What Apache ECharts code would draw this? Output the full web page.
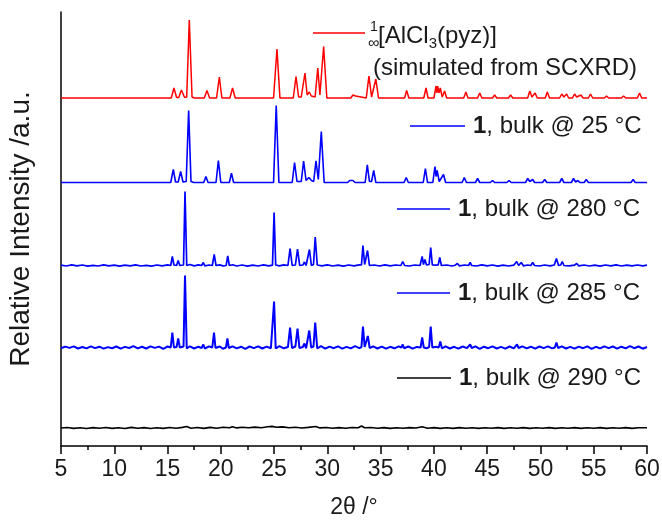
<!DOCTYPE html>
<html>
<head>
<meta charset="utf-8">
<script src="https://cdn.jsdelivr.net/npm/echarts@6/dist/echarts.min.js"></script>
<style>
  html, body { margin: 0; padding: 0; background: #fff; }
  #chart { width: 662px; height: 522px; }
</style>
</head>
<body>
<div id="chart"></div>
<script>
// 2theta / intensity pairs (intensity above each trace's own baseline)
var simPattern = [
  [5,0],[15.35,0],[15.6,10],[15.85,0.5],[16.05,0.5],[16.3,8],[16.6,0.5],[16.8,1],[17.04,78],[17.3,1],[17.5,0],
  [18.45,0],[18.7,7.5],[18.95,0],[19.6,0],[19.86,21],[20.1,0],[20.85,0],[21.1,10],[21.35,0],
  [24.95,0],[25.27,49],[25.55,0],[26.8,0],[27.06,21.5],[27.3,1],[27.55,1],[27.9,25],[28.1,3],[28.3,6],[28.5,2],[28.85,1],[29.1,30],[29.3,3],[29.4,3],[29.65,51.5],[29.95,0],
  [32.2,0],[32.4,3],[32.55,1],[32.66,2],[32.8,0],[33.65,0],[33.9,22],[34.15,1],[34.3,1],[34.55,19],[34.8,0],
  [37.25,0],[37.44,7.5],[37.65,0],[39.05,0],[39.26,10],[39.45,0],[40.0,0],[40.2,12],[40.28,5],[40.36,12],[40.47,5],[40.6,10],[40.78,1],[41.0,7],[41.2,0],
  [42.8,0],[43.0,6],[43.2,0],[44.1,0],[44.3,5],[44.5,0],[45.5,0],[45.7,3],[45.9,0],[47.0,0],[47.2,3],[47.4,0],[48.8,0],[49.0,7],[49.2,1],[49.5,5],[49.7,0],[50.45,0],[50.64,6],[50.85,0],
  [51.8,0],[52.0,4],[52.2,1],[52.46,4],[52.65,0],[53.0,0],[53.2,4],[53.4,1],[53.8,3],[54.0,0],[54.5,0],[54.7,4],[54.9,0],[56.0,0],[56.2,2],[56.4,0],[57.6,0],[57.8,2],[58.0,0],[59.1,0],[59.3,5],[59.5,0],[60,0]
];

var bulk25 = [
  [5,0],[15.3,0],[15.54,13],[15.75,0.5],[16.0,0.5],[16.23,11],[16.45,0.5],[16.75,1],[16.98,72],[17.2,1],[17.45,0],
  [18.4,0],[18.6,6],[18.8,0],[19.55,0],[19.77,22],[20.0,0],[20.8,0],[21.0,9.3],[21.2,0],
  [24.95,0],[25.2,77],[25.45,0],[26.7,0],[26.92,20],[27.15,1],[27.55,1],[27.77,21.5],[28.0,2],[28.27,5],[28.5,2],[28.72,1],[28.93,21.7],[29.15,3],[29.22,3],[29.43,51],[29.7,0],
  [31.9,0],[32.1,2],[32.25,0.5],[32.4,2],[32.6,0],[33.55,0],[33.75,17.7],[33.95,1],[34.15,1],[34.35,12],[34.55,0],
  [37.2,0],[37.4,5],[37.6,0],[39.0,0],[39.2,14],[39.4,0],[39.9,0],[40.1,16],[40.2,6],[40.3,12],[40.5,1],[40.9,8],[41.1,0],
  [42.65,0],[42.85,5],[43.05,0],[43.9,0],[44.1,4],[44.3,0],[45.3,0],[45.5,2],[45.7,0],[46.85,0],[47.05,2],[47.25,0],[48.6,0],[48.8,4],[49.0,1],[49.27,3],[49.45,0],[50.2,0],[50.4,3],[50.6,0],
  [51.8,0],[52.0,4],[52.2,0],[52.9,0],[53.1,4],[53.3,0.5],[53.5,2],[53.7,0],[54.1,0],[54.3,3],[54.5,0],[58.5,0],[58.7,3],[58.9,0],[60,0]
];

var bulk280 = [
  [5,0.3],[5.5,-0.5],[6,0.6],[6.5,-0.4],[7,0.5],[7.5,-0.6],[8,0.2],[8.5,-0.5],[9,0.7],[9.5,-0.3],[10,0.4],[10.5,-0.7],[11,0.3],[11.5,-0.4],[12,0.6],[12.5,-0.5],[13,0.2],[13.5,-0.6],[14,0.5],[14.5,-0.3],[15,0.6],[15.3,0],
  [15.45,9],[15.6,0.5],[15.85,0],[16.0,5],[16.15,0],[16.5,0.5],[16.64,74],[16.8,0],[17.1,1],[17.5,-0.4],[17.9,0.6],[18.2,0],[18.36,3],[18.5,-0.3],[18.9,0.5],[19.2,0],[19.38,11],[19.55,0],[19.9,0.6],[20.2,-0.4],[20.5,0],[20.65,9.5],[20.8,0],
  [21.1,0.8],[21.5,-0.5],[22,0.5],[22.5,-0.6],[23,0.4],[23.5,-0.5],[24,0.6],[24.5,-0.3],[24.85,0.3],
  [25.0,53],[25.15,0.5],[25.5,-0.4],[25.9,0.6],[26.3,0],[26.5,17],[26.7,0],[27.0,0.5],[27.2,16.5],[27.4,0],[27.7,0.5],[27.85,3.5],[28.0,0],[28.15,0.5],[28.32,16],[28.5,0],[28.7,1],[28.86,28.5],[29.05,0.5],
  [29.5,-0.4],[30,0.6],[30.5,-0.5],[31,0.4],[31.5,-0.6],[32,0.5],[32.5,-0.3],[33,0.6],[33.2,0.5],
  [33.34,20],[33.5,1],[33.62,1],[33.77,15],[33.95,0],[34.4,0.5],[34.9,-0.5],[35.4,0.6],[35.9,-0.4],[36.4,0.5],[36.9,0],[37.07,4],[37.25,0],[37.7,-0.5],[38.2,0.5],[38.7,0],
  [38.9,9],[39.02,1],[39.16,6],[39.3,0.5],[39.55,1],[39.7,18],[39.85,0.5],[40.2,0.3],[40.4,0.5],[40.55,8],[40.7,0],[41.2,0.5],[41.7,-0.5],[42.0,0.3],[42.2,2],[42.4,-0.3],[42.9,0.5],[43.25,0],[43.4,3],[43.55,0],
  [44,-0.5],[44.5,0.6],[45,-0.4],[45.5,0.5],[46,-0.6],[46.5,0.4],[47,-0.5],[47.5,0.3],[47.77,4],[47.95,0],[48.2,3],[48.4,-0.3],[48.8,0.5],[49.1,0],[49.27,3],[49.45,0],[49.9,-0.5],[50.4,0.5],[50.9,-0.4],
  [51.3,0.5],[51.5,7],[51.7,0],[51.9,0.5],[52.05,4],[52.2,0],[52.7,-0.4],[53.2,0.3],[53.4,2],[53.6,-0.3],[54.1,0.5],[54.6,-0.5],[55.1,0.4],[55.6,-0.6],[56.1,0.5],[56.6,-0.3],[57.1,0.6],[57.6,-0.5],[58.1,0.4],[58.6,-0.4],[59.1,0.5],[59.6,-0.3],[60,0.4]
];

var bulk285 = [
  [5,-0.8],[5.4,0.9],[5.8,-0.4],[6.2,1.1],[6.6,-1.0],[7,0.5],[7.4,-0.9],[7.8,1.2],[8.2,-0.6],[8.6,0.8],[9,-1.1],[9.4,0.4],[9.8,-0.7],[10.2,1.0],[10.6,-1.2],[11,0.6],[11.4,-0.5],[11.8,1.3],[12.2,-0.9],[12.6,0.7],[13,-1.0],[13.4,1.1],[13.8,-0.4],[14.2,0.9],[14.6,-1.3],[15,1.0],[15.3,0],
  [15.45,15],[15.6,0],[15.85,0.5],[16.0,9],[16.15,0],[16.5,1],[16.64,72],[16.8,-1],[17.1,1.2],[17.5,-1],[17.9,0.8],[18.2,-0.5],[18.36,3],[18.5,-1],[18.9,1.1],[19.2,0],[19.36,15],[19.5,-0.5],[19.9,1],[20.2,-1.2],[20.48,0],[20.62,9],[20.75,-0.5],
  [21.1,1.2],[21.5,-0.9],[21.9,0.8],[22.3,-1.3],[22.7,1],[23.1,-0.6],[23.5,1.2],[23.9,-1],[24.3,0.9],[24.7,-0.8],[24.88,0.5],
  [25.0,46],[25.15,-1],[25.5,1.4],[25.9,-0.8],[26.3,0.5],[26.5,20],[26.68,-0.5],[27.0,1],[27.2,19],[27.38,-0.5],[27.7,0.5],[27.85,4],[28.0,-0.8],[28.15,0.5],[28.3,17],[28.48,0],[28.7,1],[28.86,25],[29.05,-1],
  [29.4,1.3],[29.8,-1.2],[30.2,0.9],[30.6,-0.7],[31,1.2],[31.4,-1.1],[31.8,0.6],[32.2,-0.9],[32.6,1.3],[33.0,-0.6],[33.2,0.5],
  [33.34,21],[33.5,0.5],[33.65,1],[33.8,11.5],[33.97,-0.5],[34.3,1.1],[34.7,-1.0],[35.1,0.8],[35.5,-1.2],[35.9,0.7],[36.3,-0.8],[36.7,1.2],[36.95,0],[37.07,3],[37.2,-0.7],[37.6,1],[38,-1.1],[38.4,0.6],[38.75,0],
  [38.9,10],[39.05,0],[39.3,-0.8],[39.55,0.5],[39.7,21],[39.85,0],[40.2,0.8],[40.45,0],[40.6,6],[40.75,-0.8],[41.1,1.2],[41.5,-1],[41.9,0.7],[42.3,-1.2],[42.7,1],[43.1,-0.6],[43.25,0],[43.4,3],[43.55,-0.5],
  [43.9,1.1],[44.3,-1.3],[44.7,0.8],[45.1,-0.7],[45.5,1.2],[45.9,-1],[46.3,0.6],[46.7,-1.1],[47.1,1],[47.5,-0.8],[47.65,0],[47.8,3],[47.95,-0.5],[48.3,1.2],[48.7,-0.9],[49.1,0.8],[49.5,-1.2],[49.9,1],[50.3,-0.6],[50.7,1.1],[51.1,-0.9],
  [51.35,0],[51.5,5],[51.65,-0.5],[52,1.2],[52.4,-1],[52.8,0.6],[53.2,-1.2],[53.6,0.9],[54,-0.7],[54.4,1.1],[54.8,-1.3],[55.2,0.7],[55.6,-0.9],[56,1.2],[56.4,-0.6],[56.8,1],[57.2,-1.1],[57.6,0.8],[58,-0.9],[58.4,1.3],[58.8,-0.7],[59.2,1],[59.6,-1.2],[60,0.5]
];

var bulk290 = [
  [5,0],[5.6,0.5],[6.2,-0.4],[6.8,0.3],[7.4,-0.5],[8,0.4],[8.6,-0.3],[9.2,0.5],[9.8,-0.4],[10.4,0.3],[11,-0.5],[11.6,0.6],[12.2,-0.3],[12.8,0.4],[13.4,-0.5],[14,0.3],[14.6,-0.4],[15.2,0.5],[15.8,-0.3],[16.4,0.6],[16.8,1.5],[17.2,-0.2],
  [17.8,0.5],[18.4,-0.4],[19,0.6],[19.6,-0.3],[20.2,0.7],[20.8,0.2],[21.1,1.3],[21.5,0.1],[22,0.8],[22.6,0.2],[23.2,0.9],[23.8,0.3],[24.4,1.2],[24.8,1.6],[25.2,0.8],[25.8,1.1],[26.4,0.3],[27,0.8],[27.6,0],[28.2,0.6],[28.9,1.5],
  [29.3,0.1],[29.9,0.5],[30.5,-0.2],[31.1,0.4],[31.7,-0.3],[32.3,0.5],[32.9,0.2],[33.2,2],[33.5,0.2],[34.1,0.5],[34.7,-0.3],[35.3,0.4],[35.9,-0.4],[36.5,0.3],[37.1,-0.3],[37.7,0.4],[38.3,0],[38.9,1.2],[39.4,-0.2],
  [40,0.4],[40.6,-0.4],[41.2,0.3],[41.8,-0.4],[42.4,0.4],[43,-0.3],[43.6,0.3],[44.2,-0.4],[44.8,0.3],[45.4,-0.3],[46,0.4],[46.6,-0.4],[47.2,0.3],[47.8,-0.3],[48.4,0.4],[49,-0.4],[49.6,0.3],[50.2,-0.3],
  [50.8,0.4],[51.4,-0.4],[52,0.3],[52.6,-0.3],[53.2,0.4],[53.8,-0.4],[54.4,0.3],[55,-0.3],[55.6,0.4],[56.2,-0.4],[56.8,0.3],[57.4,-0.3],[58,0.4],[58.6,-0.4],[59.2,0.3],[60,0.2]
];

// vertical stacking of the patterns (same units as intensity)
var stackOffsets = [348, 263.5, 180.5, 98.5, 18];
var seriesNames = ['sim', '25', '280', '285', '290'];
var bulkTemps = ['25', '280', '285', '290'];

var FONT = "'Liberation Sans', Arial, sans-serif";

function lift(points, dy) {
    return points.map(function (p) { return [p[0], p[1] + dy]; });
}

var patterns = [simPattern, bulk25, bulk280, bulk285, bulk290];
var colors = ['#ff0000', '#0000ff', '#0000ff', '#0000ff', '#000000'];
var widths = [1.5, 1.6, 1.7, 2, 1.6];

var series = patterns.map(function (pts, i) {
    return {
        name: seriesNames[i], type: 'line', data: lift(pts, stackOffsets[i]),
        showSymbol: false, symbol: 'none', smooth: false, animation: false,
        lineStyle: { color: colors[i], width: widths[i] }
    };
});

// legend entries drawn by hand, each next to its trace
var legendLines = [
    { x1: 313, x2: 365, y: 33, color: '#ff0000' },
    { x1: 410, x2: 465, y: 126, color: '#0000ff' },
    { x1: 397, x2: 450, y: 209, color: '#0000ff' },
    { x1: 397, x2: 450, y: 293, color: '#0000ff' },
    { x1: 397, x2: 451, y: 378, color: '#000000' }
];
var graphics = legendLines.map(function (l) {
    return { type: 'line', shape: { x1: l.x1, y1: l.y, x2: l.x2, y2: l.y }, style: { stroke: l.color, lineWidth: 1.5 } };
});
bulkTemps.forEach(function (t, i) {
    var l = legendLines[i + 1];
    graphics.push({
        type: 'text', x: l.x2 + 8, y: l.y,
        style: {
            text: '{b|1}{n|, bulk @ ' + t + ' °C}',
            textVerticalAlign: 'middle', verticalAlign: 'middle',
            rich: {
                b: { fontFamily: FONT, fontSize: 24, fontWeight: 'bold', fill: '#1a1a1a' },
                n: { fontFamily: FONT, fontSize: 24, fill: '#1a1a1a' }
            }
        }
    });
});
// simulated pattern label: prescripts 1 / ∞, subscript 3
graphics.push(
    { type: 'text', x: 370, y: 27, style: { text: '1', font: '14px ' + FONT, fill: '#1a1a1a', textVerticalAlign: 'middle', verticalAlign: 'middle' } },
    { type: 'text', x: 368, y: 44, style: { text: '∞', font: '16px ' + FONT, fill: '#1a1a1a', textVerticalAlign: 'middle', verticalAlign: 'middle' } },
    {
        type: 'text', x: 378, y: 36,
        style: {
            text: '{m|[AlCl}{s|3}{m|(pyz)]}',
            textVerticalAlign: 'middle', verticalAlign: 'middle',
            rich: {
                m: { fontFamily: FONT, fontSize: 24, lineHeight: 30, fill: '#1a1a1a' },
                s: { fontFamily: FONT, fontSize: 15, lineHeight: 15, verticalAlign: 'bottom', fill: '#1a1a1a' }
            }
        }
    },
    { type: 'text', x: 373, y: 68, style: { text: '(simulated from SCXRD)', font: '24px ' + FONT, fill: '#1a1a1a', textVerticalAlign: 'middle', verticalAlign: 'middle' } }
);

var option = {
    animation: false,
    backgroundColor: '#ffffff',
    grid: { left: 61, right: 15, top: 12, bottom: 76, outerBoundsMode: 'none' },
    xAxis: {
        type: 'value', min: 5, max: 60, interval: 5,
        name: '2θ /°', nameLocation: 'middle', nameGap: 50,
        nameTextStyle: { fontFamily: FONT, fontSize: 23, color: '#1a1a1a' },
        axisLine: { lineStyle: { color: '#000', width: 1.5 } },
        axisTick: { inside: false, length: 8, lineStyle: { color: '#000', width: 1.5 } },
        minorTick: { show: true, splitNumber: 2, length: 4, lineStyle: { color: '#000', width: 1.5 } },
        axisLabel: { fontFamily: FONT, fontSize: 23, color: '#1a1a1a', margin: 12 },
        splitLine: { show: false }
    },
    yAxis: {
        type: 'value', min: 0, max: 434,
        name: 'Relative Intensity /a.u.', nameLocation: 'middle', nameGap: 26, nameRotate: 90,
        nameTextStyle: { fontFamily: FONT, fontSize: 28, color: '#1a1a1a' },
        axisLine: { show: true, lineStyle: { color: '#000', width: 1.5 } },
        axisTick: { show: false },
        axisLabel: { show: false },
        splitLine: { show: false }
    },
    graphic: graphics,
    series: series
};

var myChart = echarts.init(document.getElementById('chart'), null, { renderer: 'canvas' });
myChart.setOption(option);
</script>
</body>
</html>
